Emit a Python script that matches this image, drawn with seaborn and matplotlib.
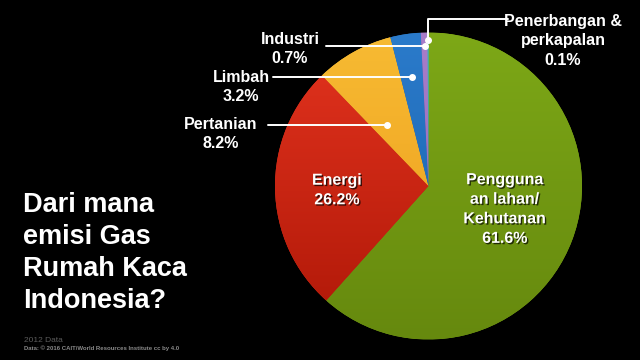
import numpy as np
import matplotlib
matplotlib.use("Agg")
import matplotlib.pyplot as plt
import matplotlib.patheffects as pe
from matplotlib.colors import LinearSegmentedColormap
import seaborn as sns

# data
categories = ["Pengguna\nan lahan/\nKehutanan", "Energi", "Pertanian", "Limbah",
              "Industri", "Penerbangan &\nperkapalan"]
shares = [61.6, 26.2, 8.2, 3.2, 0.7, 0.1]
top_colors = ["#7da817", "#e4341f", "#f7bb33", "#2b7bcb", "#a87dc9", "#3dc9da"]
bottom_colors = ["#66890e", "#ae1707", "#ec9a1a", "#1860a8", "#9366b8", "#2aaebf"]

sns.set_theme(style="dark", rc={"figure.facecolor": "black", "axes.facecolor": "black",
                                "savefig.facecolor": "black"})
plt.rcParams["font.family"] = ["Liberation Sans", "DejaVu Sans"]

W, H = 640, 360
fig = plt.figure(figsize=(6.4, 3.6), dpi=100)

# pie geometry in pixels
cx, cy, R = 428.5, 186, 153.5
ax = fig.add_axes([(cx - R) / W, (H - cy - R) / H, 2 * R / W, 2 * R / H])

wedges, _ = ax.pie(shares, startangle=90, counterclock=False, colors=top_colors,
                   wedgeprops=dict(linewidth=0))
ax.axis("off")

# vertical gradient in each slice
grad = np.linspace(0, 1, 256).reshape(-1, 1)
for w, c1, c2 in zip(wedges, top_colors, bottom_colors):
    cmap = LinearSegmentedColormap.from_list("g", [c2, c1])
    im = ax.imshow(grad, cmap=cmap, extent=[-1, 1, -1, 1], origin="lower",
                   aspect="auto", zorder=w.get_zorder() + 0.1)
    im.set_clip_path(w)
ax.set_xlim(-1, 1)
ax.set_ylim(-1, 1)

def pxd(x, y):
    # pixel position -> pie data coords
    return (x - cx) / R, (cy - y) / R

def fx(x, y):
    return x / W, 1 - y / H

shadow = [pe.withSimplePatchShadow(offset=(1, -1), shadow_rgbFace="black", alpha=0.7)]
lab_kw = dict(color="white", fontsize=11.5, fontweight="bold", ha="center",
              va="center", linespacing=1.38, zorder=10)

# labels inside the pie
ax.text(*pxd(505, 209), f"{categories[0]}\n{shares[0]}%", path_effects=shadow, **lab_kw)
ax.text(*pxd(337, 190), f"{categories[1]}\n{shares[1]}%", path_effects=shadow, **lab_kw)

# mid-angles (clockwise from top) of each slice
cum = np.cumsum([0] + shares)
mids = [(cum[i] + cum[i + 1]) / 2 / 100 * 360 for i in range(len(shares))]

def dot_x(idx, y_px, shift=0.0):
    yd = (cy - y_px) / R
    return yd * np.tan(np.radians(mids[idx] + shift))

# outer labels with leader lines: (idx, text center x, text center y, line y, line start x, angle shift)
outer = [(2, 221, 134, 125, 268, -5),
         (3, 241, 87, 77, 273, 0),
         (4, 290, 49, 46, 326, 0)]
for idx, tx, ty, ly, lx, sh in outer:
    fig.text(*fx(tx, ty), f"{categories[idx]}\n{shares[idx]}%", **lab_kw)
    xd = dot_x(idx, ly, sh)
    yd = (cy - ly) / R
    ax.plot([(lx - cx) / R, xd], [yd, yd], color="white", lw=1.4, clip_on=False, zorder=11)
    ax.plot([xd], [yd], "o", color="white", ms=4, clip_on=False, zorder=12)

# elbow leader for the smallest slice
ly, ty_line, tx_end = 40, 19, 508
xd = dot_x(5, ly)
ax.plot([xd, xd, (tx_end - cx) / R], [(cy - ly) / R, (cy - ty_line) / R, (cy - ty_line) / R],
        color="white", lw=1.4, clip_on=False, zorder=11)
ax.plot([xd], [(cy - ly) / R], "o", color="white", ms=4, clip_on=False, zorder=12)
fig.text(*fx(563, 41), f"{categories[5]}\n{shares[5]}%", **lab_kw)

# title
fig.text(*fx(23, 192), "Dari mana\nemisi Gas\nRumah Kaca\nIndonesia?", color="white",
         fontsize=19.5, fontweight="bold", ha="left", va="top", linespacing=1.3)

# source notes
fig.text(*fx(24, 341), "2012 Data", color="#5c5c5c", fontsize=6, ha="left", va="center")
fig.text(*fx(24, 348), "Data: \u00a9 2016 CAIT/World Resources Institute cc by 4.0",
         color="#8a8a8a", fontsize=4.3, fontweight="bold", ha="left", va="center")

fig.savefig("out.png", dpi=100, facecolor="black")
